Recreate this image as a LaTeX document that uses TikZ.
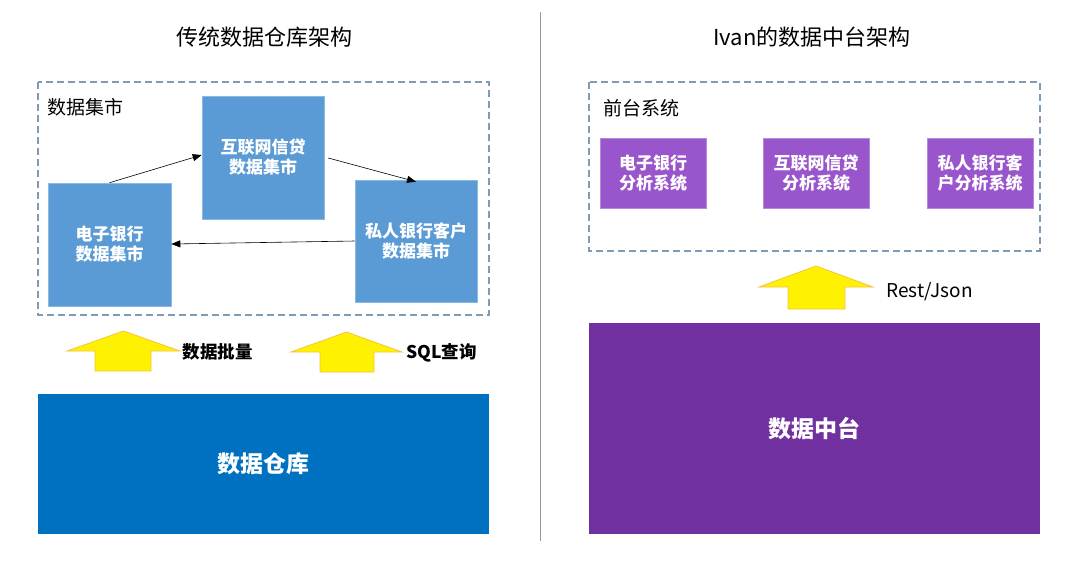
\documentclass[tikz,border=0pt]{standalone}
\usepackage{fontspec}
\setmainfont{Noto Sans CJK SC}
\usetikzlibrary{arrows.meta}
\definecolor{martblue}{HTML}{5B9BD5}
\definecolor{whblue}{HTML}{0070C0}
\definecolor{sysviolet}{HTML}{9955CC}
\definecolor{midpurple}{HTML}{7030A0}
\definecolor{dashgray}{HTML}{7F9BB5}
\definecolor{arrowedge}{HTML}{F5C242}
\tikzset{
  titletext/.style={font=\fontsize{22}{26}\selectfont},
  marttext/.style={font=\bfseries\fontsize{17}{20}\selectfont, text=white, align=center},
  martbox/.style={fill=martblue, draw=martblue!70!white, line width=0.6pt},
  sysbox/.style={fill=sysviolet, draw=sysviolet!70!white, line width=0.6pt},
  dashbox/.style={draw=dashgray, dashed, dash pattern=on 7pt off 4pt, line width=1.3pt},
  grouplabel/.style={font=\fontsize{19}{22}\selectfont, anchor=west},
  flowarrow/.style={draw=black, line width=0.6pt, -{Triangle[length=9pt,width=7pt]}},
  bigarrow/.style={fill=yellow, draw=arrowedge, line width=0.8pt},
  sidelabel/.style={font=\bfseries\fontsize{17.5}{20}\selectfont, anchor=west},
  bigtext/.style={font=\bfseries\fontsize{23}{27}\selectfont, text=white}
}
\begin{document}
\begin{tikzpicture}[x=1pt,y=-1pt]
\useasboundingbox (0,0) rectangle (1080,566);
\fill[white] (0,0) rectangle (1080,566);
% titles
\node[titletext] (t1) at (264,37) {传统数据仓库架构};
\node[titletext] (t2) at (812,37) {Ivan的数据中台架构};
% divider
\coordinate (dtop) at (540,12);
\coordinate (dbot) at (540,541);
\draw[gray!80, line width=0.8pt] (dtop) -- (dbot);
% left dashed group
\draw[dashbox] (38,82) rectangle (489,315);
\node[grouplabel] (g1) at (44,107) {数据集市};
\node[martbox, minimum width=122pt, minimum height=123pt, inner sep=0pt, marttext] (hlw) at (263,157.5) {互联网信贷\\数据集市};
\node[martbox, minimum width=123pt, minimum height=123pt, inner sep=0pt, marttext] (dzyh) at (109.5,244.5) {电子银行\\数据集市};
\node[martbox, minimum width=122pt, minimum height=122pt, inner sep=0pt, marttext] (srkh) at (416,241) {私人银行客户\\数据集市};
\draw[flowarrow] (dzyh.north) -- (hlw.west |- 0,155);
\draw[flowarrow] ([xshift=4pt]hlw.east |- 0,158) -- ([yshift=-2pt]srkh.north);
\draw[flowarrow] (srkh.west |- 0,241) -- (dzyh.east |- 0,244);
% left big arrows
\draw[bigarrow] (67,351) -- (123.5,331) -- (180,351) -- (151,351) -- (151,371) -- (95,371) -- (95,351) -- cycle;
\node[sidelabel] (l1) at (179,352) {数据批量};
\draw[bigarrow] (291,352) -- (346.5,332) -- (402,352) -- (374,352) -- (374,372) -- (320,372) -- (320,352) -- cycle;
\node[sidelabel] (l2) at (403,353) {SQL查询};
% warehouse
\node[fill=whblue, minimum width=451pt, minimum height=140pt, inner sep=0pt, bigtext] (dw) at (263.5,464) {数据仓库};
% right dashed group
\draw[dashbox] (589,82) rectangle (1040,251);
\node[grouplabel] (g2) at (600,108) {前台系统};
\node[sysbox, minimum width=106pt, minimum height=70pt, inner sep=0pt, marttext] (s1) at (653,173) {电子银行\\分析系统};
\node[sysbox, minimum width=106pt, minimum height=70pt, inner sep=0pt, marttext] (s2) at (816,173) {互联网信贷\\分析系统};
\node[sysbox, minimum width=106pt, minimum height=70pt, inner sep=0pt, marttext] (s3) at (980,173) {私人银行客\\户分析系统};
\draw[bigarrow] (759,287) -- (816,266) -- (873,287) -- (845,287) -- (845,309) -- (788,309) -- (788,287) -- cycle;
\node[font=\fontsize{19}{22}\selectfont, anchor=west] (rj) at (883,292) {Rest/Json};
\node[fill=midpurple, minimum width=451pt, minimum height=211pt, inner sep=0pt, bigtext] (zt) at (814.5,428.5) {数据中台};
\end{tikzpicture}
\end{document}
